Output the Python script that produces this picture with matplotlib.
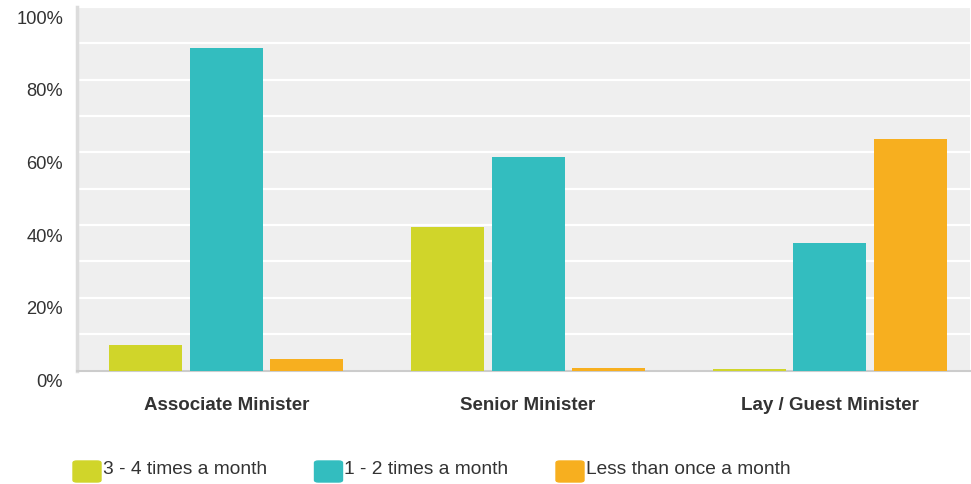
import numpy as np
import matplotlib
matplotlib.use("Agg")
import matplotlib.pyplot as plt
from matplotlib.patches import FancyBboxPatch
from matplotlib.transforms import ScaledTranslation

plt.rcParams["font.family"] = ["Liberation Sans", "DejaVu Sans"]

# Данные
categories = ["Associate Minister", "Senior Minister", "Lay / Guest Minister"]
series_names = ["3 - 4 times a month", "1 - 2 times a month", "Less than once a month"]
often = [7.0, 39.6, 0.3]
sometimes = [88.8, 58.7, 35.2]
rarely = [3.2, 0.7, 63.7]
yticks = [0, 20, 40, 60, 80, 100]

colors = ["#d0d52a", "#33bdbf", "#f7af1f"]
text_color = "#333333"

W, H = 971, 484
fig = plt.figure(figsize=(W / 100, H / 100), dpi=100)
ax = fig.add_axes([77 / W, (H - 370.5) / H, (970 - 77) / W, (370.5 - 7) / H])
ax.set_facecolor("#efefef")

x = np.arange(len(categories))
width = 0.242
step = 0.267
for i, (vals, c) in enumerate(zip([often, sometimes, rarely], colors)):
    ax.bar(x + (i - 1) * step, vals, width, color=c, zorder=3)

ax.set_xlim(-0.495, 2.465)
ax.set_ylim(0, 100)

# сетка через 10%
ax.set_yticks(yticks)
ax.set_yticks(np.arange(10, 100, 20), minor=True)
ax.yaxis.grid(True, which="both", color="white", lw=1.6, zorder=1)
ax.set_yticklabels([f"{v}%" for v in yticks], fontsize=13.2, color=text_color)
ax.tick_params(axis="y", which="both", length=0, pad=10)
offset = ScaledTranslation(0, -10 / 100, fig.dpi_scale_trans)
for lab in ax.get_yticklabels():
    lab.set_transform(lab.get_transform() + offset)

ax.set_xticks(x)
ax.set_xticklabels(categories, fontsize=13.5, fontweight="bold", color=text_color)
ax.tick_params(axis="x", length=0, pad=19)

for s in ["top", "right"]:
    ax.spines[s].set_visible(False)
ax.spines["left"].set_color("#dcdcdc")
ax.spines["left"].set_linewidth(2.5)
ax.spines["bottom"].set_color("#cccccc")
ax.spines["bottom"].set_linewidth(1.5)

# Легенда
for i, (name, c) in enumerate(zip(series_names, colors)):
    x0 = 73 + i * 241.5
    box = FancyBboxPatch((x0 / W, (H - 482) / H), 28 / W, 21 / H,
                         boxstyle="round,pad=0,rounding_size=0.004",
                         transform=fig.transFigure, color=c)
    fig.patches.append(box)
    fig.text((x0 + 30) / W, (H - 469) / H, name, fontsize=13.8,
             color=text_color, va="center", ha="left")

fig.savefig("out.png", dpi=100)
